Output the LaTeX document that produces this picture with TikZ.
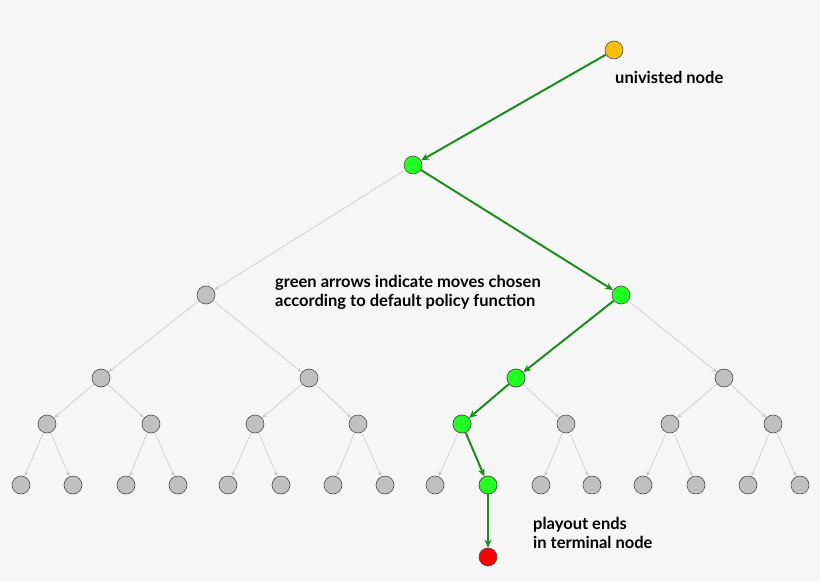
\documentclass[tikz,border=0pt]{standalone}
\usepackage{fontspec}
\setmainfont{Lato}
\usetikzlibrary{arrows.meta}
\definecolor{bg}{HTML}{F6F6F6}
\definecolor{gfill}{HTML}{C0C0C0}
\definecolor{grn}{HTML}{22FF22}
\definecolor{dgrn}{HTML}{1E8C1E}
\definecolor{yel}{HTML}{F8BE10}
\tikzset{
 tn/.style={circle,draw=black!70,line width=0.6pt,minimum size=18pt,inner sep=0pt,fill=gfill},
 gn/.style={tn,fill=grn},
 ge/.style={draw=black!20,line width=0.6pt,-{Stealth[length=5pt,width=4pt]}},
 me/.style={draw=dgrn,line width=2pt,-{Stealth[length=8pt,width=7pt]}},
 lab/.style={font=\bfseries\fontsize{16.5}{19}\selectfont,align=left,anchor=west,inner sep=0pt}
}
\begin{document}
\begin{tikzpicture}[x=1pt,y=-1pt]
\fill[bg] (0,0) rectangle (820,581);
\node[tn,fill=yel] (r) at (614,50) {};
\node[gn] (a) at (413,165) {};
\node[tn] (b0) at (206,295) {};
\node[gn] (b1) at (621,295) {};
\foreach \i/\x in {0/101,1/309,2/516,3/724} \node[tn] (c\i) at (\x,378) {};
\node[gn] at (c2) {};
\foreach \i/\x in {0/47,1/151,2/255,3/358,4/462,5/566,6/670,7/773} \node[tn] (d\i) at (\x,424) {};
\node[gn] at (d4) {};
\foreach \i/\x in {0/21,1/73,2/126,3/178,4/228,5/281,6/333,7/385,8/435,9/488,10/541,11/592,12/643,13/696,14/748,15/800} \node[tn] (e\i) at (\x,485) {};
\node[gn] at (e9) {};
\node[tn,fill=red] (t) at (488,557) {};
% gray edges
\draw[ge] (a) -- (b0);
\draw[ge] (b0) -- (c0); \draw[ge] (b0) -- (c1); \draw[ge] (b1) -- (c3);
\draw[ge] (c0) -- (d0); \draw[ge] (c0) -- (d1); \draw[ge] (c1) -- (d2); \draw[ge] (c1) -- (d3);
\draw[ge] (c2) -- (d5); \draw[ge] (c3) -- (d6); \draw[ge] (c3) -- (d7);
\foreach \p/\l/\r in {0/0/1,1/2/3,2/4/5,3/6/7,4/8/9,5/10/11,6/12/13,7/14/15} {
  \ifnum\p=4 \draw[ge] (d\p) -- (e\l); \else \draw[ge] (d\p) -- (e\l); \draw[ge] (d\p) -- (e\r); \fi }
% green moves
\draw[me] (r) -- (a);
\draw[me] (a) -- (b1);
\draw[me] (b1) -- (c2);
\draw[me] (c2) -- (d4);
\draw[me] (d4) -- (e9);
\draw[me] (e9) -- (t);
\node[lab] (l1) at (615,77) {univisted node};
\node[lab] (l2) at (275,292) {green arrows indicate moves chosen\\according to default policy function};
\node[lab] (l3) at (533,533) {playout ends\\in terminal node};
\end{tikzpicture}
\end{document}
